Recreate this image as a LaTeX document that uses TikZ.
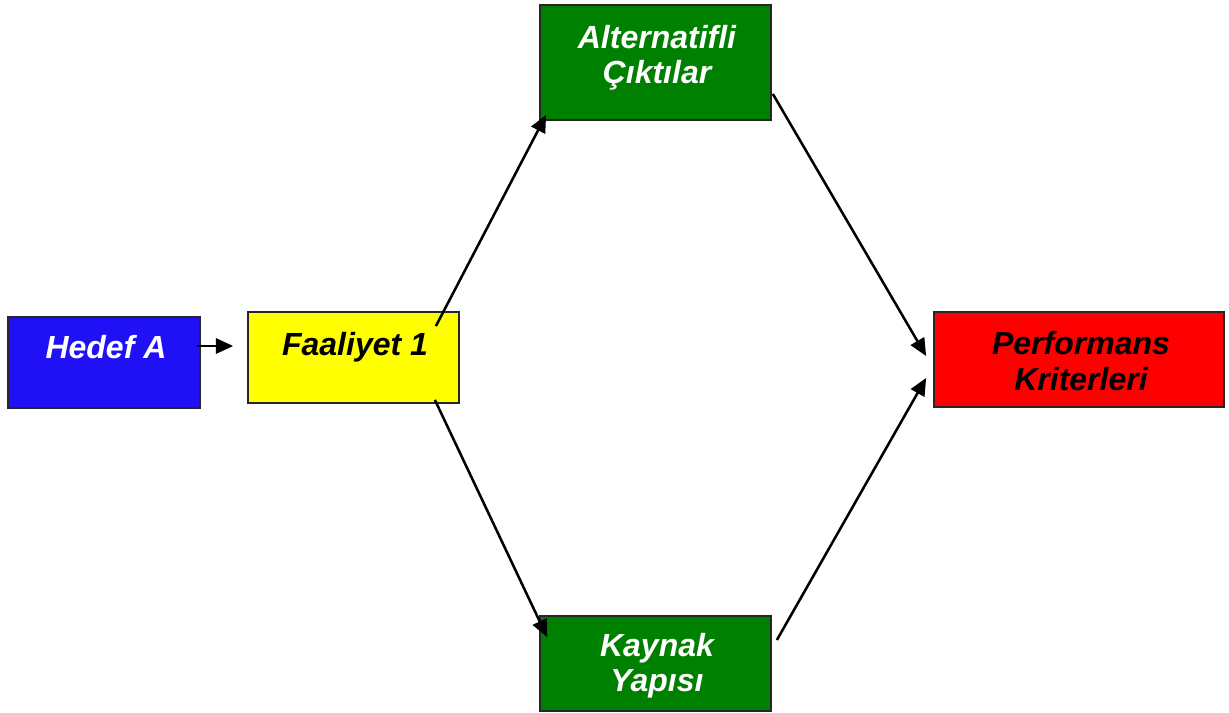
\documentclass[tikz,border=0pt]{standalone}
\usepackage{fontspec}
\setmainfont{Liberation Sans}
\usetikzlibrary{arrows.meta,calc}
\definecolor{boxblue}{RGB}{32,16,245}
\definecolor{boxgreen}{RGB}{0,128,0}
\definecolor{boxyellow}{RGB}{255,255,0}
\definecolor{boxred}{RGB}{255,0,0}
\tikzset{
  box/.style={draw=black!85, line width=1.3pt, inner sep=0pt, rectangle},
  lbl/.style={font=\fontsize{24}{26.5}\selectfont\bfseries\itshape, inner sep=0pt, align=center},
  conn/.style={line width=1.9pt, -{Triangle[length=13pt,width=11.5pt]}}
}
\begin{document}
\begin{tikzpicture}[x=0.75pt,y=-0.75pt]
\useasboundingbox (0,0) rectangle (1229,713);
% boxes
\node[box, fill=boxblue, minimum width=144pt, minimum height=68.25pt] (hedef) at (104,362.5) {};
\node[box, fill=boxyellow, minimum width=158.25pt, minimum height=68.25pt] (faal) at (353.5,357.5) {};
\node[box, fill=boxgreen, minimum width=173.25pt, minimum height=86.25pt] (alt) at (655.5,62.5) {};
\node[box, fill=boxgreen, minimum width=173.25pt, minimum height=71.25pt] (kay) at (655.5,663.5) {};
\node[box, fill=boxred, minimum width=217.5pt, minimum height=71.25pt] (perf) at (1079,359.5) {};
% labels
\node[lbl, text=white, anchor=base] (thedef) at (106,358) {Hedef A};
\node[lbl, text=black, anchor=base] (tfaal) at (355,355) {Faaliyet 1};
\node[lbl, text=white, anchor=center] (talt) at (657,58) {Alternatifli\\Çıktılar};
\node[lbl, text=white, anchor=center] (tkay) at (657,666) {Kaynak\\Yapısı};
\node[lbl, text=black, anchor=center] (tperf) at (1081,361) {Performans\\Kriterleri};
% connector endpoints
\coordinate (h1) at ($(hedef.east)+(-4,-16.5)$);
\coordinate (f0) at ($(faal.west)+(-14,-11.5)$);
\coordinate (f1) at ($(faal.north east)+(-24,15)$);
\coordinate (a0) at ($(alt.south west)+(7,-6)$);
\coordinate (a1) at ($(alt.east)+(1,31.5)$);
\coordinate (p0) at ($(perf.west)+(-7,-3.5)$);
\coordinate (f2) at ($(faal.south east)+(-25,-4)$);
\coordinate (k0) at ($(kay.north west)+(8,22)$);
\coordinate (k1) at ($(kay.east)+(5,-23.5)$);
\coordinate (p1) at ($(perf.west)+(-7,18.5)$);
% connectors
\draw[conn] (h1) -- (f0);
\draw[conn] (f1) -- (a0);
\draw[conn] (a1) -- (p0);
\draw[conn] (f2) -- (k0);
\draw[conn] (k1) -- (p1);
\end{tikzpicture}
\end{document}
